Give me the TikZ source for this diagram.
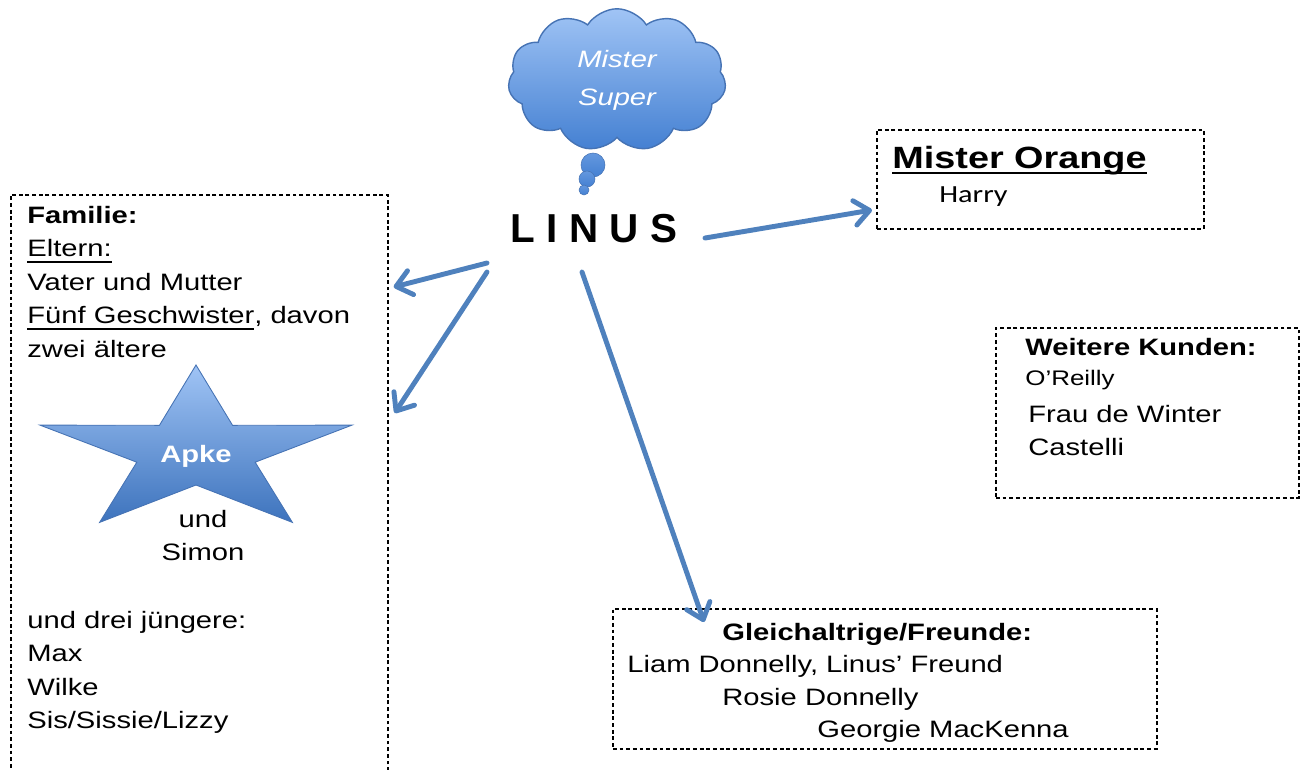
\documentclass[tikz,border=0pt]{standalone}
\usepackage{fontspec}
\setmainfont{Liberation Sans}[FakeStretch=1.23]
\newfontfamily\linusfont{Liberation Sans}
\newfontfamily\calibrifont{Carlito}[FakeStretch=1.23]
\usetikzlibrary{arrows.meta, positioning, shapes.symbols}
\definecolor{linkblue}{RGB}{79, 129, 189}
\definecolor{skytop}{RGB}{160, 196, 245}
\definecolor{skybottom}{RGB}{68, 128, 210}
\definecolor{skyline}{RGB}{70, 115, 180}

% underline sitting a little below the baseline
\newsavebox\ulbox
\newcommand{\ulined}[1]{\sbox\ulbox{#1}\rlap{\raisebox{-3.4pt}{\rule{\wd\ulbox}{1.1pt}}}\usebox\ulbox}

\begin{document}
\begin{tikzpicture}[
    x=0.02cm, y=-0.02cm,
    body/.style={inner sep=0pt, font=\fontsize{13.5}{19}\selectfont},
    dashbox/.style={rectangle, draw=black, line width=1pt, dash pattern=on 2.2pt off 1.6pt, inner sep=0pt, anchor=north west},
    arrow/.style={draw=linkblue, line width=2.8pt, line cap=round, -{Straight Barb[round, length=8.5pt, width=14pt]}},
    bubble/.style={top color=skytop!35!skybottom, bottom color=skybottom, draw=skyline, line width=0.3pt}
  ]
    \clip (0,0) rectangle (1307,769);

    % thought cloud over the name
    \node (thought) [cloud, cloud puffs=11, cloud puff arc=115, aspect=1.6, minimum width=4.36cm, minimum height=2.85cm, inner sep=0pt,
        top color=skytop, bottom color=skybottom, draw=skyline, line width=0.8pt, text=white, align=center,
        font=\itshape\fontsize{13.5}{21.6}\selectfont] at (617,80) {Mister\\Super};
    \path[bubble] (593,165) circle[radius=12];
    \path[bubble] (587,179) circle[radius=8];
    \path[bubble] (584,190) circle[radius=5];

    \node (linus) [anchor=base, inner sep=0pt, font=\linusfont\bfseries\fontsize{23}{28}\selectfont] at (594,242) {L I N U S};

    % boxes
    \node (family) [dashbox, minimum width=7.54cm, minimum height=12cm] at (10,194) {};
    \node (orange) [dashbox, minimum width=6.54cm, minimum height=1.98cm] at (876,129) {};
    \node (clients) [dashbox, minimum width=6.06cm, minimum height=3.4cm] at (995,327) {};
    \node (friends) [dashbox, minimum width=10.88cm, minimum height=2.8cm] at (612,608) {};

    % family
    \node (famTop) [body, anchor=north west, align=left] at (27,206) {\textbf{Familie:}\\\ulined{Eltern:}\\Vater und Mutter\\\ulined{Fünf Geschwister}, davon\\zwei ältere};
    \begin{scope}[shift={(196,452)}, xscale=1.885]
      \path[top color=skytop, bottom color=skybottom!90!black, draw=skyline, line width=0.5pt]
        (-90:87) \foreach \k in {1,...,9} { -- ({-90+36*\k}:{ifthenelse(isodd(\k),33,87)}) } -- cycle;
    \end{scope}
    \node (apke) [body, anchor=base, text=white, font=\bfseries\fontsize{13.5}{19}\selectfont] at (196,462) {Apke};
    \node (famOlder) [body, anchor=north, align=center] at (203,510) {und\\Simon};
    \node (famYounger) [body, anchor=north west, align=left] at (27,611) {und drei jüngere:\\Max\\Wilke\\Sis/Sissie/Lizzy};

    % Mister Orange
    \node (orangeTitle) [anchor=base west, inner sep=0pt, font=\bfseries\fontsize{17.5}{21}\selectfont] at (892,168) {\ulined{Mister Orange}};
    \node (harry) [anchor=base west, inner sep=0pt, font=\calibrifont\fontsize{14}{17}\selectfont] at (939,202) {Harry};

    % other clients
    \node (clientsTitle) [body, anchor=base west, font=\bfseries\fontsize{13.5}{19}\selectfont] at (1025,355) {Weitere Kunden:};
    \node (oreilly) [body, anchor=base west, font=\fontsize{12}{14}\selectfont] at (1025,385) {O’Reilly};
    \node (winter) [body, anchor=base west] at (1028,422) {Frau de Winter};
    \node (castelli) [body, anchor=base west] at (1028,455) {Castelli};

    % friends
    \node (friendsTitle) [body, anchor=base west, font=\bfseries\fontsize{13.5}{19}\selectfont] at (722,640) {Gleichaltrige/Freunde:};
    \node (liam) [body, anchor=base west] at (627,672) {Liam Donnelly, Linus’ Freund};
    \node (rosie) [body, anchor=base west] at (722,705) {Rosie Donnelly};
    \node (georgie) [body, anchor=base west] at (817,737) {Georgie MacKenna};

    % arrows out of the name
    \draw[arrow] ([shift={(-107,21)}]linus.base) -- ([shift={(5,93)}]family.north east);
    \draw[arrow] ([shift={(-107,30)}]linus.base) -- ([shift={(6,219)}]family.north east);
    \draw[arrow] ([shift={(-12,30)}]linus.base) -- ([shift={(92,14)}]friends.north west);
    \draw[arrow] ([shift={(111,-4)}]linus.base) -- ([shift={(-4,81)}]orange.north west);
\end{tikzpicture}
\end{document}
